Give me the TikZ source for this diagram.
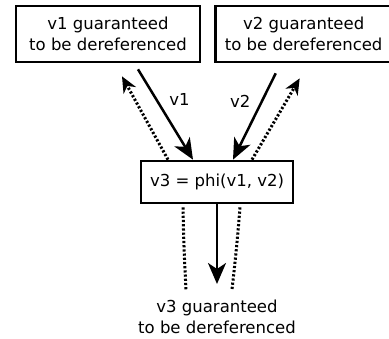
\documentclass[tikz,border=0pt]{standalone}
\usepackage{fontspec}
\setmainfont{DejaVu Sans}
\usetikzlibrary{positioning,arrows.meta}

\begin{document}
\begin{tikzpicture}[x=1pt,y=-1pt,
			framed/.style={rectangle, draw=black, line width=2.7pt, inner sep=0, align=center, minimum height=56pt, font=\fontsize{16.5}{21}\selectfont},
			plain/.style={inner sep=0, align=center, font=\fontsize{16.5}{21}\selectfont},
			arrow/.style={line width=2.5pt,-{Stealth[length=21pt,width=18pt,inset=6pt]}},
			flow/.style={line width=3pt,dash pattern=on 2.2pt off 2pt},
			back/.style={flow,-{Stealth[length=16pt,width=14pt,inset=5pt]}}]

			\useasboundingbox (0,0) rectangle (389,339);

			\node[framed, minimum width=184pt] (v1) at (108,34) {v1 guaranteed\\to be dereferenced};
			\node[framed, minimum width=176pt, right=13pt of v1] (v2) {v2 guaranteed\\to be dereferenced};
			\node[framed, minimum width=152pt, minimum height=42pt] (phi) at (217,182) {v3 = phi(v1, v2)};
			\node[plain] (res) at (217,317) {v3 guaranteed\\to be dereferenced};
			\coordinate (tip) at (217,284);

			\draw[arrow] ([xshift=30pt,yshift=-6pt]v1.south) -- node[plain, pos=0.33, right=12pt] {v1} ([xshift=-24pt]phi.north);
			\draw[arrow] ([xshift=-28pt,yshift=-10pt]v2.south) -- node[plain, pos=0.33, left=10pt] {v2} ([xshift=16pt]phi.north);
			\draw[back] ([xshift=-49pt]phi.north) -- ([xshift=14pt,yshift=-13pt]v1.south);
			\draw[back] ([xshift=35pt]phi.north) -- ([xshift=-4pt,yshift=-15pt]v2.south);

			\draw[arrow] (phi.south) -- (tip);
			\draw[flow] ([xshift=-34pt,yshift=-3pt]phi.south) to[bend right=1] ++(3,82);
			\draw[flow] ([xshift=23pt,yshift=-3pt]phi.south) to[bend left=1] ++(-8,82);
		\end{tikzpicture}
\end{document}
